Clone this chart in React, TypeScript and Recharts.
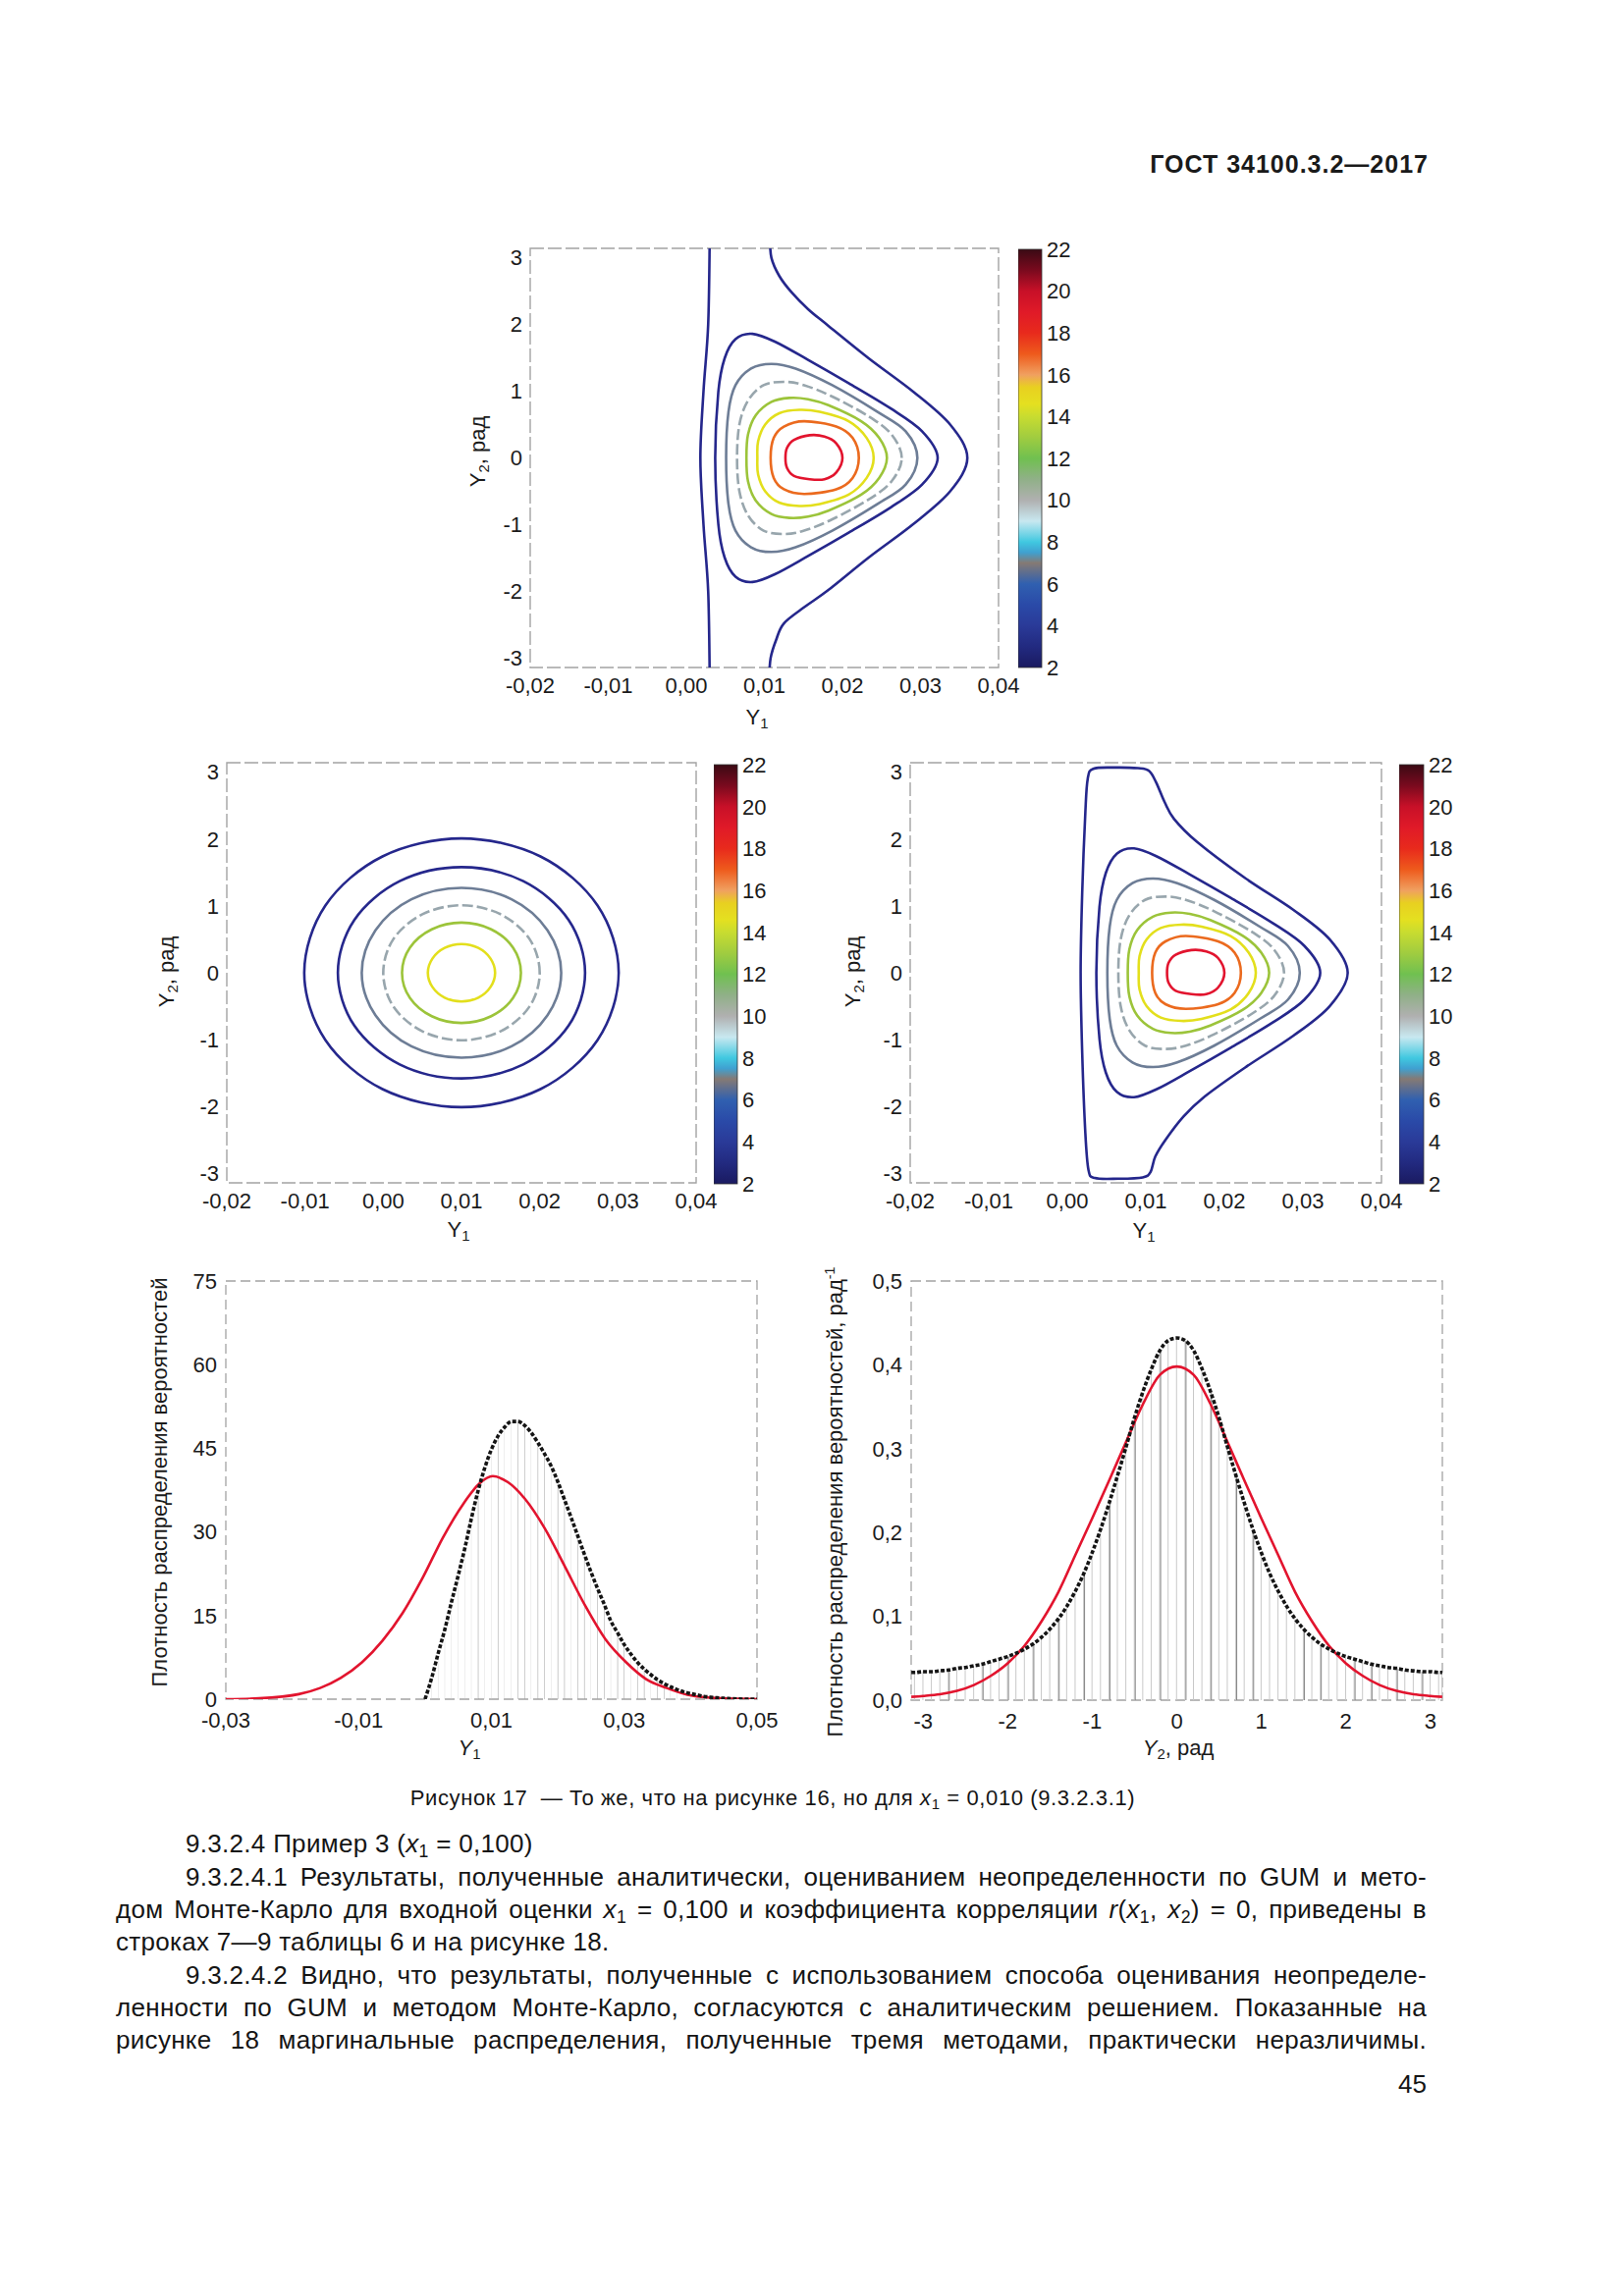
import React from "react";
import {
  LineChart,
  Line,
  ComposedChart,
  Bar,
  BarChart,
  XAxis,
  YAxis,
  ReferenceArea,
} from "recharts";

type Pt = [number, number];

// ---------- tick labels ----------
const contourXTicks = [-0.02, -0.01, 0, 0.01, 0.02, 0.03, 0.04];
const contourYTicks = [-3, -2, -1, 0, 1, 2, 3];
const colorbarTicks = [2, 4, 6, 8, 10, 12, 14, 16, 18, 20, 22];
const y1Ticks = [-0.03, -0.01, 0.01, 0.03, 0.05];
const densityY1Ticks = [0, 15, 30, 45, 60, 75];
const y2Ticks = [-3, -2, -1, 0, 1, 2, 3];
const densityY2Ticks = [0, 0.1, 0.2, 0.3, 0.4, 0.5];

// ---------- contours, top panel (Y1, Y2) ----------
const topOuterLeft: Pt[] = [
  [0.003, 3.3], [0.0028, 2.0], [0.0022, 1.0], [0.0018, 0],
  [0.0022, -1.0], [0.0028, -2.0], [0.003, -3.3],
];
const topOuterRight: Pt[] = [
  [0.0107, 3.3], [0.0109, 3.0], [0.0119, 2.73], [0.0135, 2.48], [0.0156, 2.23],
  [0.0182, 1.98], [0.0234, 1.49], [0.0291, 0.99], [0.0338, 0.5], [0.036, 0],
  [0.0338, -0.5], [0.0291, -0.99], [0.0234, -1.49], [0.0182, -1.98], [0.0152, -2.23],
  [0.0125, -2.48], [0.0115, -2.73], [0.0108, -3.0], [0.0106, -3.3],
];
const level4: Pt[] = [
  [0.0322, 0], [0.0302, 0.4], [0.0262, 0.74], [0.0208, 1.12], [0.0156, 1.47],
  [0.0114, 1.74], [0.0085, 1.86], [0.0063, 1.78], [0.0049, 1.49], [0.0041, 0.99],
  [0.0037, 0], [0.0041, -0.99], [0.0049, -1.49], [0.0063, -1.78], [0.0085, -1.86],
  [0.0114, -1.74], [0.0156, -1.47], [0.0208, -1.12], [0.0262, -0.74], [0.0302, -0.4],
];
const level6: Pt[] = [
  [0.0296, 0], [0.0281, 0.4], [0.0245, 0.69], [0.0187, 1.09], [0.014, 1.34],
  [0.0109, 1.41], [0.0083, 1.34], [0.0063, 1.09], [0.0054, 0.69], [0.0051, 0],
  [0.0054, -0.69], [0.0063, -1.09], [0.0083, -1.34], [0.0109, -1.41], [0.014, -1.34],
  [0.0187, -1.09], [0.0245, -0.69], [0.0281, -0.4],
];
const level8: Pt[] = [
  [0.0276, 0], [0.0263, 0.35], [0.0234, 0.62], [0.0187, 0.92], [0.0151, 1.09],
  [0.0125, 1.14], [0.0099, 1.09], [0.0079, 0.86], [0.0068, 0.5], [0.0065, 0],
  [0.0068, -0.5], [0.0079, -0.86], [0.0099, -1.09], [0.0125, -1.14], [0.0151, -1.09],
  [0.0187, -0.92], [0.0234, -0.62], [0.0263, -0.35],
];
const level12: Pt[] = [
  [0.0257, 0], [0.0247, 0.3], [0.0224, 0.55], [0.0182, 0.79], [0.0156, 0.88],
  [0.0132, 0.9], [0.0109, 0.84], [0.0089, 0.64], [0.0079, 0.35], [0.0077, 0],
  [0.0079, -0.35], [0.0089, -0.64], [0.0109, -0.84], [0.0132, -0.9], [0.0156, -0.88],
  [0.0182, -0.79], [0.0224, -0.55], [0.0247, -0.3],
];
const level14: Pt[] = [
  [0.024, 0], [0.0231, 0.3], [0.0208, 0.55], [0.0171, 0.69], [0.0145, 0.72],
  [0.0119, 0.67], [0.0101, 0.5], [0.0092, 0.25], [0.0091, 0], [0.0092, -0.25],
  [0.0101, -0.5], [0.0119, -0.67], [0.0145, -0.72], [0.0171, -0.69], [0.0208, -0.55],
  [0.0231, -0.3],
];
const level16: Pt[] = [
  [0.0221, 0], [0.0213, 0.3], [0.0192, 0.47], [0.0151, 0.55], [0.0125, 0.47],
  [0.0112, 0.3], [0.0108, 0], [0.0112, -0.3], [0.0125, -0.47], [0.0151, -0.54],
  [0.0192, -0.47], [0.0213, -0.3],
];
const level20: Pt[] = [
  [0.02, 0], [0.0192, 0.22], [0.0177, 0.32], [0.0158, 0.34], [0.0138, 0.27],
  [0.0129, 0.15], [0.0127, 0], [0.0129, -0.15], [0.0138, -0.27], [0.0158, -0.32],
  [0.0177, -0.32], [0.0192, -0.22],
];

// ---------- contours, middle-right panel (outer closed level) ----------
const mcOuter: Pt[] = [
  [0.0357, 0], [0.0334, 0.5], [0.0288, 0.94], [0.0226, 1.42], [0.0165, 1.96],
  [0.0136, 2.3], [0.0124, 2.55], [0.0113, 2.85], [0.0104, 3.02], [0.009, 3.06],
  [0.006, 3.07], [0.0033, 3.05], [0.0026, 2.9], [0.0023, 2.4], [0.0019, 1.2],
  [0.0017, 0], [0.0019, -1.2], [0.0023, -2.4], [0.0027, -2.95], [0.0035, -3.07],
  [0.0065, -3.08], [0.0096, -3.06], [0.0106, -2.98], [0.0112, -2.75], [0.0125, -2.5],
  [0.0148, -2.15], [0.0175, -1.85], [0.0226, -1.42], [0.0288, -0.94], [0.0334, -0.5],
];

// ---------- contours, middle-left panel (rings around Y1 = 0,010) ----------
const ring1: Pt[] = [
  [0.0301, 0], [0.0274, 1.005], [0.0201, 1.74], [0.01, 2.01], [-0.0001, 1.74], [-0.0074, 1.005],
  [-0.0101, 0], [-0.0074, -1.005], [-0.0001, -1.74], [0.01, -2.01], [0.0201, -1.74], [0.0274, -1.005],
];
const ring2: Pt[] = [
  [0.0258, 0], [0.0237, 0.79], [0.0179, 1.37], [0.01, 1.58], [0.0021, 1.37], [-0.0037, 0.79],
  [-0.0058, 0], [-0.0037, -0.79], [0.0021, -1.37], [0.01, -1.58], [0.0179, -1.37], [0.0237, -0.79],
];
const ring3: Pt[] = [
  [0.02275, 0], [0.021, 0.635], [0.0164, 1.1], [0.01, 1.27], [0.0036, 1.1], [-0.001, 0.635],
  [-0.00275, 0], [-0.001, -0.635], [0.0036, -1.1], [0.01, -1.27], [0.0164, -1.1], [0.021, -0.635],
];
const ring4: Pt[] = [
  [0.02, 0], [0.0187, 0.505], [0.015, 0.875], [0.01, 1.01], [0.005, 0.875], [0.0013, 0.505],
  [0.0, 0], [0.0013, -0.505], [0.005, -0.875], [0.01, -1.01], [0.015, -0.875], [0.0187, -0.505],
];
const ring5: Pt[] = [
  [0.0176, 0], [0.0166, 0.375], [0.0138, 0.65], [0.01, 0.75], [0.0062, 0.65], [0.0034, 0.375],
  [0.0024, 0], [0.0034, -0.375], [0.0062, -0.65], [0.01, -0.75], [0.0138, -0.65], [0.0166, -0.375],
];
const ring6: Pt[] = [
  [0.0143, 0], [0.0137, 0.215], [0.01215, 0.372], [0.01, 0.43], [0.00785, 0.372], [0.0063, 0.215],
  [0.0057, 0], [0.0063, -0.215], [0.00785, -0.372], [0.01, -0.43], [0.01215, -0.372], [0.0137, -0.215],
];

// ---------- marginal density of Y1 ----------
const y1Bins = [
  0, 0.001, 0.002, 0.003, 0.004, 0.005, 0.006, 0.007, 0.008, 0.009, 0.01,
  0.011, 0.012, 0.013, 0.014, 0.015, 0.016, 0.017, 0.018, 0.019, 0.02,
  0.021, 0.022, 0.023, 0.024, 0.025, 0.026, 0.027, 0.028, 0.029, 0.03,
  0.031, 0.032, 0.033, 0.034, 0.035, 0.036, 0.037, 0.038, 0.039, 0.04,
  0.041, 0.042, 0.043, 0.044, 0.045, 0.046, 0.047, 0.048, 0.049, 0.05,
];
const y1Hist = [
  0, 3.8, 8.3, 12.6, 17.5, 22.2, 27.1, 32.5, 37.4, 41.5, 44.8,
  47.2, 48.8, 49.8, 49.8, 49.1, 47.8, 46.0, 44.0, 41.8, 39.0,
  35.8, 32.6, 29.3, 26.0, 22.8, 19.8, 17.0, 14.0, 11.9, 9.8,
  8.1, 6.6, 5.4, 4.4, 3.5, 2.8, 2.2, 1.7, 1.3, 1.0,
  0.75, 0.5, 0.35, 0.25, 0.15, 0.1, 0.05, 0, 0, 0,
];
const y1DarkBins = [
  0.008, 0.011, 0.014, 0.015, 0.017, 0.018, 0.02, 0.021, 0.023, 0.024,
  0.026, 0.027, 0.029, 0.03, 0.032, 0.033, 0.035, 0.036,
];
const y1GumX = [
  -0.03, -0.025, -0.019, -0.0158, -0.0127, -0.0095, -0.0064, -0.0034, -0.0003,
  0.0027, 0.0058, 0.0082, 0.0102, 0.0125, 0.015, 0.018, 0.0211, 0.0242, 0.0272,
  0.0303, 0.0333, 0.0364, 0.0395, 0.0425, 0.05,
];
const y1GumY = [
  0, 0.15, 0.9, 2.0, 3.8, 6.6, 10.5, 15.4, 21.9,
  29.0, 35.1, 38.7, 40.0, 38.9, 36.0, 30.7, 23.7, 16.6, 10.7,
  6.6, 3.6, 2.0, 0.8, 0.3, 0,
];

// ---------- marginal density of Y2 ----------
const y2Bins = [
  -3.14, -3.1, -3.0, -2.9, -2.8, -2.7, -2.6, -2.5, -2.4, -2.3, -2.2, -2.1, -2.0,
  -1.9, -1.8, -1.7, -1.6, -1.5, -1.4, -1.3, -1.2, -1.1, -1.0, -0.9, -0.8, -0.7,
  -0.6, -0.5, -0.4, -0.3, -0.2, -0.1, 0, 0.1, 0.2, 0.3, 0.4, 0.5, 0.6, 0.7, 0.8,
  0.9, 1.0, 1.1, 1.2, 1.3, 1.4, 1.5, 1.6, 1.7, 1.8, 1.9, 2.0, 2.1, 2.2, 2.3,
  2.4, 2.5, 2.6, 2.7, 2.8, 2.9, 3.0, 3.1, 3.14,
];
const y2Hist = [
  0.033, 0.033, 0.034, 0.034, 0.035, 0.036, 0.038, 0.039, 0.041, 0.043, 0.046, 0.049, 0.052,
  0.056, 0.061, 0.067, 0.075, 0.085, 0.097, 0.112, 0.13, 0.151, 0.176, 0.204, 0.235, 0.268,
  0.302, 0.337, 0.368, 0.395, 0.417, 0.429, 0.432, 0.429, 0.417, 0.395, 0.368, 0.337, 0.302, 0.268, 0.235,
  0.204, 0.176, 0.151, 0.13, 0.112, 0.097, 0.085, 0.075, 0.067, 0.061, 0.056, 0.052, 0.049, 0.046, 0.043,
  0.041, 0.039, 0.038, 0.036, 0.035, 0.034, 0.034, 0.033, 0.033,
];
const y2DarkBins = [
  -2.7, -2.3, -2.0, -1.7, -1.4, -1.1, -0.8, -0.5, -0.2, 0.1, 0.4, 0.7, 0.9,
  1.5, 1.7, 2.1, 2.3, 2.6, 2.9,
];
const y2GumX = [
  -3.14, -3.0, -2.8, -2.6, -2.4, -2.2, -2.0, -1.8, -1.6, -1.4, -1.2, -1.0, -0.8, -0.6,
  -0.4, -0.2, 0, 0.2, 0.4, 0.6, 0.8, 1.0, 1.2, 1.4, 1.6, 1.8, 2.0, 2.2, 2.4, 2.6,
  2.8, 3.0, 3.14,
];
const y2GumY = [
  0.004, 0.005, 0.007, 0.011, 0.018, 0.029, 0.044, 0.065, 0.094, 0.129, 0.173, 0.217, 0.262, 0.308,
  0.353, 0.388, 0.398, 0.388, 0.353, 0.308, 0.262, 0.217, 0.173, 0.129, 0.094, 0.065, 0.044, 0.029, 0.018, 0.011,
  0.007, 0.005, 0.004,
];

// ---------- styles ----------
const FONT = '"Liberation Sans", Arial, Helvetica, sans-serif';
const INK = "#1b1b1b";
const NAVY = "#25278c";
const GRAYBLUE = "#6d7d96";
const GRAYCYAN = "#98a6ad";
const GREEN = "#9cc43a";
const YELLOW = "#e3df1c";
const ORANGE = "#eb6a1e";
const RED = "#e2142e";
const FRAME = "#a3a3a3";
const tickStyle = { fontSize: 22, fill: INK, fontFamily: FONT };

const JET_STOPS: [number, string][] = [
  [0, "#3a0a14"], [0.05, "#7a0a1e"], [0.1, "#c81028"], [0.15, "#e01a28"],
  [0.2, "#e82a1c"], [0.25, "#ee5a1c"], [0.3, "#f0a060"], [0.33, "#e8d020"],
  [0.37, "#e4e020"], [0.4, "#c8dc30"], [0.45, "#a0cc40"], [0.5, "#70c050"],
  [0.55, "#90b088"], [0.6, "#b0b0b0"], [0.65, "#c8e8f0"], [0.7, "#40c8e0"],
  [0.725, "#40a0d0"], [0.75, "#857a74"], [0.8, "#3060b0"], [0.85, "#2a4aa8"],
  [0.9, "#2a3a98"], [0.95, "#222a80"], [1, "#1a1a60"],
];

const fmtComma = (d: number) => (v: number) => v.toFixed(d).replace(".", ",");

// Catmull-Rom curve through the given points (open or closed)
function catmullRom(closed: boolean) {
  return (ctx: any) => {
    let pts: Pt[] = [];
    return {
      areaStart() {},
      areaEnd() {},
      lineStart() {
        pts = [];
      },
      point(x: number, y: number) {
        pts.push([+x, +y]);
      },
      lineEnd() {
        const n = pts.length;
        if (!n) return;
        const at = (i: number) =>
          closed ? pts[(i + n) % n] : pts[Math.max(0, Math.min(n - 1, i))];
        ctx.moveTo(pts[0][0], pts[0][1]);
        const segs = closed ? n : n - 1;
        for (let i = 0; i < segs; i++) {
          const p0 = at(i - 1);
          const p1 = at(i);
          const p2 = at(i + 1);
          const p3 = at(i + 2);
          ctx.bezierCurveTo(
            p1[0] + (p2[0] - p0[0]) / 6,
            p1[1] + (p2[1] - p0[1]) / 6,
            p2[0] - (p3[0] - p1[0]) / 6,
            p2[1] - (p3[1] - p1[1]) / 6,
            p2[0],
            p2[1]
          );
        }
        if (closed) ctx.closePath();
      },
    };
  };
}
const closedCurve = catmullRom(true);
const openCurve = catmullRom(false);

type Series = { pts: Pt[]; color: string; closed?: boolean; dashed?: boolean };

const topSeries: Series[] = [
  { pts: topOuterLeft, color: NAVY },
  { pts: topOuterRight, color: NAVY },
  { pts: level4, color: NAVY, closed: true },
  { pts: level6, color: GRAYBLUE, closed: true },
  { pts: level8, color: GRAYCYAN, closed: true, dashed: true },
  { pts: level12, color: GREEN, closed: true },
  { pts: level14, color: YELLOW, closed: true },
  { pts: level16, color: ORANGE, closed: true },
  { pts: level20, color: RED, closed: true },
];
const ringSeries: Series[] = [
  { pts: ring1, color: NAVY, closed: true },
  { pts: ring2, color: NAVY, closed: true },
  { pts: ring3, color: GRAYBLUE, closed: true },
  { pts: ring4, color: GRAYCYAN, closed: true, dashed: true },
  { pts: ring5, color: GREEN, closed: true },
  { pts: ring6, color: YELLOW, closed: true },
];
const mcSeries: Series[] = [
  { pts: mcOuter, color: NAVY, closed: true },
  ...topSeries.slice(2),
];

const PI = Math.PI;

function ContourPanel({ left, top, w, h, series }: { left: number; top: number; w: number; h: number; series: Series[] }) {
  const yW = 60;
  const xH = 44;
  const mT = 10;
  const mR = 30;
  return (
    <div style={{ position: "absolute", left: left - yW, top: top - mT }}>
      <LineChart width={yW + w + mR} height={mT + h + xH} margin={{ top: mT, right: mR, left: 0, bottom: 0 }}>
        <XAxis
          type="number"
          dataKey="x"
          domain={[-0.02, 0.04]}
          ticks={contourXTicks}
          interval={0}
          allowDataOverflow
          tickFormatter={fmtComma(2)}
          axisLine={false}
          tickLine={false}
          tickSize={0}
          tickMargin={10}
          height={xH}
          tick={tickStyle}
        />
        <YAxis
          type="number"
          dataKey="y"
          domain={[-PI, PI]}
          ticks={contourYTicks}
          interval={0}
          allowDataOverflow
          axisLine={false}
          tickLine={false}
          tickSize={0}
          tickMargin={8}
          width={yW}
          tick={tickStyle}
        />
        <ReferenceArea x1={-0.02} x2={0.04} y1={-PI} y2={PI} fill="none" stroke={FRAME} strokeWidth={1.4} strokeDasharray="14 4" />
        {series.map((s, i) => (
          <Line
            key={i}
            data={s.pts.map(([x, y]) => ({ x, y }))}
            dataKey="y"
            type={(s.closed ? closedCurve : openCurve) as any}
            stroke={s.color}
            strokeWidth={2.6}
            strokeDasharray={s.dashed ? "11 4" : undefined}
            dot={false}
            activeDot={false}
            isAnimationActive={false}
          />
        ))}
      </LineChart>
    </div>
  );
}

function ColorBar({ left, top, w, h, id }: { left: number; top: number; w: number; h: number; id: string }) {
  const lw = 40;
  const data = [{ name: "cb", range: [colorbarTicks[0], colorbarTicks[colorbarTicks.length - 1]] }];
  const shape = (p: any) => (
    <g>
      <defs>
        <linearGradient id={id} x1="0" y1="0" x2="0" y2="1">
          {JET_STOPS.map(([o, c]) => (
            <stop key={o} offset={o} stopColor={c} />
          ))}
        </linearGradient>
      </defs>
      <rect x={p.x} y={p.y} width={p.width} height={p.height} fill={`url(#${id})`} stroke="#333" strokeWidth={0.8} />
    </g>
  );
  return (
    <div style={{ position: "absolute", left, top: top - 12 }}>
      <BarChart width={w + lw} height={h + 24} data={data} margin={{ top: 12, right: 0, left: 0, bottom: 12 }} barCategoryGap={0}>
        <XAxis dataKey="name" hide />
        <YAxis
          orientation="right"
          type="number"
          domain={[2, 22]}
          ticks={colorbarTicks}
          interval={0}
          axisLine={false}
          tickLine={false}
          tickSize={0}
          tickMargin={5}
          width={lw}
          tick={tickStyle}
        />
        <Bar dataKey="range" shape={shape} isAnimationActive={false} />
      </BarChart>
    </div>
  );
}

function DensityPanel(props: {
  left: number; top: number; w: number; h: number;
  xDomain: [number, number]; xTicks: number[]; xFmt: (v: number) => string;
  yDomain: [number, number]; yTicks: number[]; yFmt: (v: number) => string;
  bins: number[]; hist: number[]; dark: number[]; gumX: number[]; gumY: number[];
}) {
  const { left, top, w, h } = props;
  const yW = 70;
  const xH = 46;
  const mT = 12;
  const mR = 30;
  const rows = props.bins.map((x, i) => ({
    x,
    h: props.hist[i],
    dk: props.dark.includes(x) ? props.hist[i] : null,
  }));
  const gum = props.gumX.map((x, i) => ({ x, y: props.gumY[i] }));
  return (
    <div style={{ position: "absolute", left: left - yW, top: top - mT }}>
      <ComposedChart
        width={yW + w + mR}
        height={mT + h + xH}
        data={rows}
        margin={{ top: mT, right: mR, left: 0, bottom: 0 }}
        barGap={0}
      >
        <XAxis
          type="number"
          dataKey="x"
          domain={props.xDomain}
          ticks={props.xTicks}
          interval={0}
          allowDataOverflow
          tickFormatter={props.xFmt}
          axisLine={false}
          tickLine={false}
          tickSize={0}
          tickMargin={13}
          height={xH}
          tick={tickStyle}
        />
        <YAxis
          type="number"
          domain={props.yDomain}
          ticks={props.yTicks}
          interval={0}
          allowDataOverflow
          tickFormatter={props.yFmt}
          axisLine={false}
          tickLine={false}
          tickSize={0}
          tickMargin={9}
          width={yW}
          tick={tickStyle}
        />
        <ReferenceArea
          x1={props.xDomain[0]}
          x2={props.xDomain[1]}
          y1={props.yDomain[0]}
          y2={props.yDomain[1]}
          fill="none"
          stroke={FRAME}
          strokeWidth={1.3}
          strokeDasharray="10 5"
        />
        <Bar dataKey="h" fill="#c9c9c9" barSize={1} isAnimationActive={false} />
        <Bar dataKey="dk" fill="#858585" barSize={1} isAnimationActive={false} />
        <Line data={gum} dataKey="y" type="monotone" stroke={RED} strokeWidth={2.6} dot={false} activeDot={false} isAnimationActive={false} />
        <Line dataKey="h" type="monotone" stroke="#151515" strokeWidth={3.6} strokeDasharray="4 2" dot={false} activeDot={false} isAnimationActive={false} />
      </ComposedChart>
    </div>
  );
}

const Sub = ({ children }: { children: React.ReactNode }) => (
  <sub style={{ fontSize: "0.68em", verticalAlign: "-0.3em", lineHeight: 0 }}>{children}</sub>
);
const Sup = ({ children }: { children: React.ReactNode }) => (
  <sup style={{ fontSize: "0.65em", verticalAlign: "0.55em", lineHeight: 0 }}>{children}</sup>
);

function Title({ x, y, size = 22, rotate = false, children }: { x: number; y: number; size?: number; rotate?: boolean; children: React.ReactNode }) {
  return (
    <div
      style={{
        position: "absolute",
        left: x,
        top: y,
        transform: `translate(-50%, -50%)${rotate ? " rotate(-90deg)" : ""}`,
        fontSize: size,
        fontFamily: FONT,
        color: INK,
        whiteSpace: "nowrap",
        lineHeight: 1,
      }}
    >
      {children}
    </div>
  );
}

function TextLine({ y, left, right = 1453, justify = false, size = 26, spacing = 0.3, children }: {
  y: number; left: number; right?: number; justify?: boolean; size?: number; spacing?: number; children: React.ReactNode;
}) {
  const lh = 32;
  return (
    <div
      style={{
        position: "absolute",
        left,
        top: y - lh / 2,
        width: right - left,
        height: lh,
        lineHeight: `${lh}px`,
        fontSize: size,
        letterSpacing: spacing,
        fontFamily: FONT,
        color: "#151515",
        textAlign: justify ? "justify" : "left",
        textAlignLast: justify ? "justify" : "left",
        whiteSpace: "normal",
      }}
    >
      {children}
    </div>
  );
}

export default function App() {
  return (
    <div style={{ position: "absolute", left: 0, top: 0, width: 1654, height: 2339, background: "#fff", overflow: "hidden", fontFamily: FONT }}>
      <div style={{ position: "absolute", right: 1654 - 1455, top: 152, fontSize: 25, fontWeight: 700, letterSpacing: 1, color: "#1a1a1a", lineHeight: "30px" }}>
        ГОСТ 34100.3.2—2017
      </div>

      {/* analytic joint density */}
      <ContourPanel left={540} top={253} w={477} h={427} series={topSeries} />
      <ColorBar left={1037} top={254} w={24} h={426} id="jetTop" />
      <Title x={487} y={460} rotate>Y<Sub>2</Sub>, рад</Title>
      <Title x={771} y={731}>Y<Sub>1</Sub></Title>

      {/* GUM joint density */}
      <ContourPanel left={231} top={777} w={478} h={428} series={ringSeries} />
      <ColorBar left={727} top={779} w={24} h={427} id="jetLeft" />
      <Title x={170} y={990} rotate>Y<Sub>2</Sub>, рад</Title>
      <Title x={467} y={1253}>Y<Sub>1</Sub></Title>

      {/* Monte Carlo joint density */}
      <ContourPanel left={927} top={777} w={480} h={428} series={mcSeries} />
      <ColorBar left={1425} top={779} w={25} h={427} id="jetRight" />
      <Title x={869} y={990} rotate>Y<Sub>2</Sub>, рад</Title>
      <Title x={1165} y={1254}>Y<Sub>1</Sub></Title>

      {/* marginal densities */}
      <DensityPanel
        left={230} top={1305} w={541} h={426}
        xDomain={[-0.03, 0.05]} xTicks={y1Ticks} xFmt={fmtComma(2)}
        yDomain={[0, 75]} yTicks={densityY1Ticks} yFmt={(v) => String(v)}
        bins={y1Bins} hist={y1Hist} dark={y1DarkBins} gumX={y1GumX} gumY={y1GumY}
      />
      <Title x={163} y={1510} size={22} rotate>Плотность распределения вероятностей</Title>
      <Title x={478} y={1781}><i>Y</i><Sub>1</Sub></Title>

      <DensityPanel
        left={928} top={1305} w={541} h={427}
        xDomain={[-PI, PI]} xTicks={y2Ticks} xFmt={(v) => String(v)}
        yDomain={[0, 0.5]} yTicks={densityY2Ticks} yFmt={fmtComma(1)}
        bins={y2Bins} hist={y2Hist} dark={y2DarkBins} gumX={y2GumX} gumY={y2GumY}
      />
      <Title x={851} y={1530} size={22} rotate>Плотность распределения вероятностей, рад<Sup>-1</Sup></Title>
      <Title x={1200} y={1781}><i>Y</i><Sub>2</Sub>, рад</Title>

      {/* caption and body text */}
      <div style={{ position: "absolute", left: 0, width: 1574, top: 1816, textAlign: "center", fontSize: 22, letterSpacing: 0.6, lineHeight: "32px", color: "#151515" }}>
        Рисунок 17&nbsp; — То же, что на рисунке 16, но для <i>x</i><Sub>1</Sub> = 0,010 (9.3.2.3.1)
      </div>
      <TextLine y={1878} left={189}>9.3.2.4 Пример 3 (<i>x</i><Sub>1</Sub> = 0,100)</TextLine>
      <TextLine y={1912} left={189} justify>
        9.3.2.4.1 Результаты, полученные аналитически, оцениванием неопределенности по GUM и мето-
      </TextLine>
      <TextLine y={1945} left={118} justify>
        дом Монте-Карло для входной оценки <i>x</i><Sub>1</Sub> = 0,100 и коэффициента корреляции <i>r</i>(<i>x</i><Sub>1</Sub>, <i>x</i><Sub>2</Sub>) = 0, приведены в
      </TextLine>
      <TextLine y={1978} left={118}>строках 7—9 таблицы 6 и на рисунке 18.</TextLine>
      <TextLine y={2012} left={189} justify>
        9.3.2.4.2 Видно, что результаты, полученные с использованием способа оценивания неопределе-
      </TextLine>
      <TextLine y={2045} left={118} justify>
        ленности по GUM и методом Монте-Карло, согласуются с аналитическим решением. Показанные на
      </TextLine>
      <TextLine y={2078} left={118} justify>
        рисунке 18 маргинальные распределения, полученные тремя методами, практически неразличимы.
      </TextLine>
      <div style={{ position: "absolute", right: 1654 - 1453, top: 2108, fontSize: 26, lineHeight: "30px", color: "#151515" }}>45</div>
    </div>
  );
}
